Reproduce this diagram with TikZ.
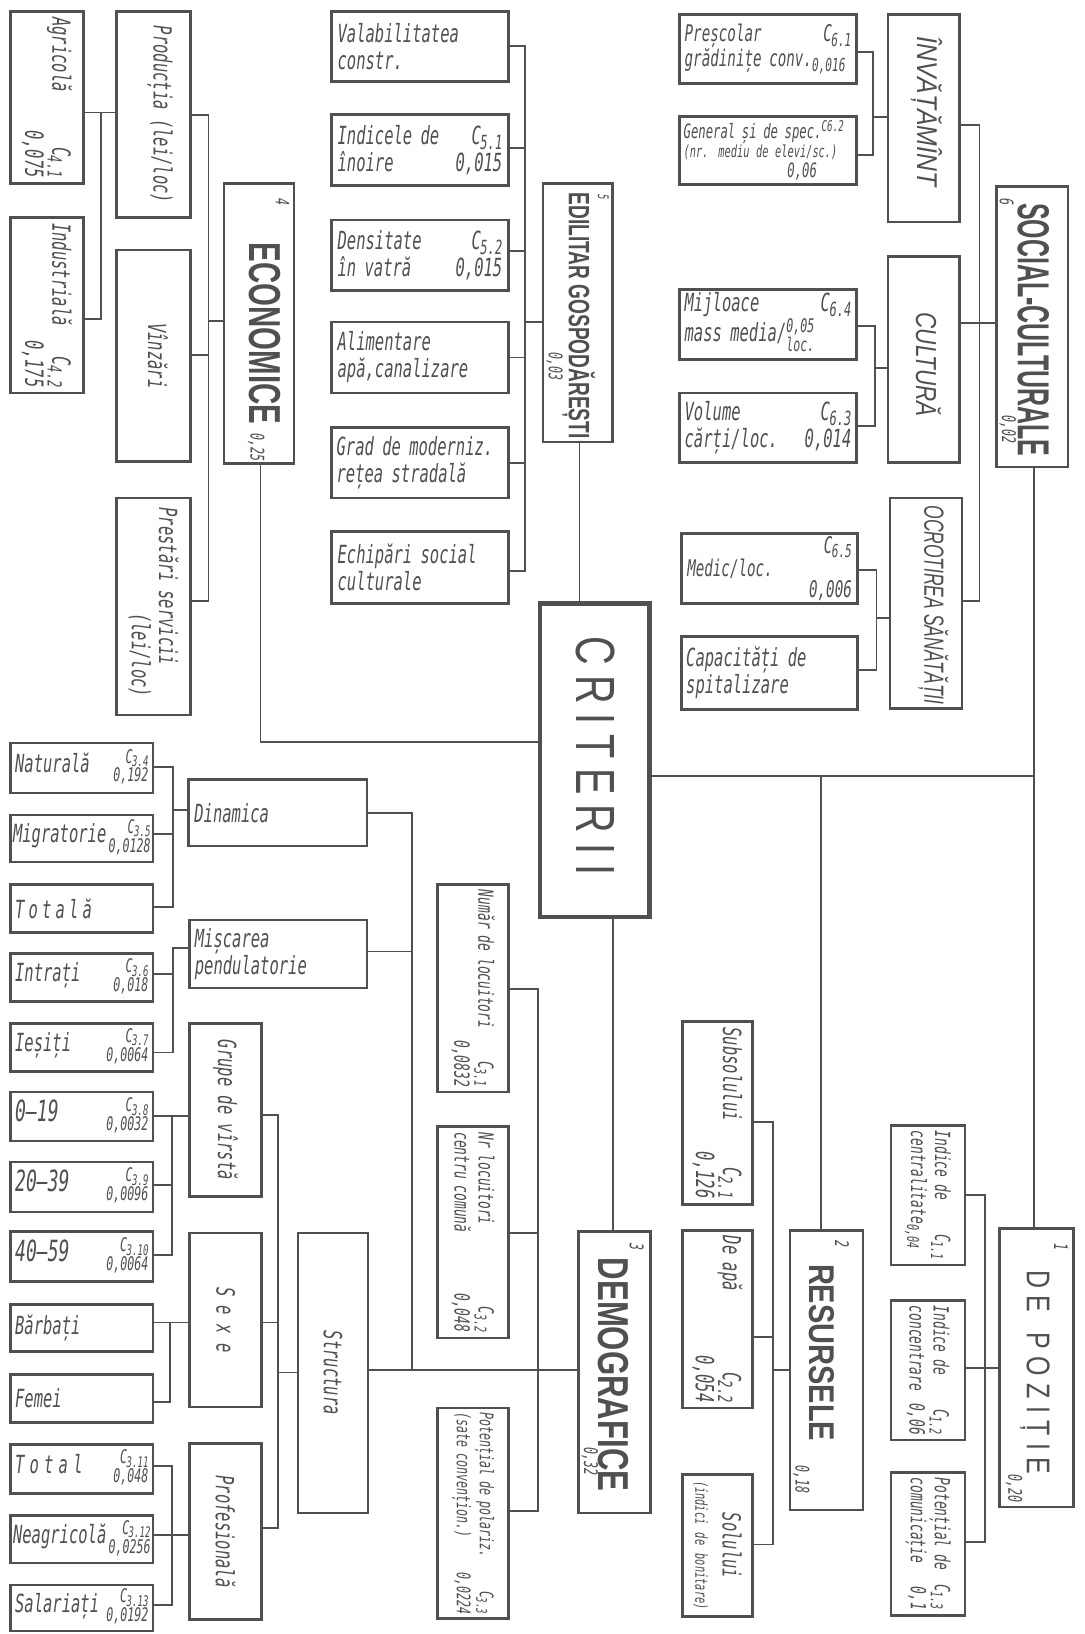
\documentclass[tikz,border=0pt]{standalone}
\usepackage{fontspec}
\usepackage{graphicx}
\setmainfont{DejaVu Sans Mono}[FakeStretch=0.62]
\newfontfamily\hdfont{Liberation Sans}
\usetikzlibrary{calc}
\definecolor{ink}{RGB}{80,80,80}
\newcommand\Bx[6][bx]{\pgfmathsetmacro\bw{#5-#3}\pgfmathsetmacro\bh{#6-#4}%
 \node[#1,minimum width=\bw pt,minimum height=\bh pt] (#2) at ({(#3+#5)/2},{(#4+#6)/2}) {};}
\newcommand\Tx[4][]{\node[tx,text width=#3pt,#1] (#2-t) at (#2.center) {#4};}
\newcommand\Sb[1]{\raisebox{-0.35ex}{\scalebox{0.78}{#1}}}
\newcommand\Cc[1]{C\kern-0.5pt\Sb{#1}}
\newcommand\Stk[2]{{\fontsize{18}{16}\selectfont\begin{tabular}[c]{@{}r@{}}#1\\#2\end{tabular}}}
\begin{document}
\begin{tikzpicture}[x=1pt,y=-1pt,
 bx/.style={draw=ink,line width=2.5pt,inner sep=0pt,outer sep=0pt},
 bigbx/.style={draw=ink,line width=4.4pt,inner sep=0pt,outer sep=0pt},
 ln/.style={draw=ink,line width=1.7pt},
 tx/.style={text=ink,inner sep=0pt,align=left,font=\itshape\fontsize{24}{26}\selectfont},
 hd/.style={text=ink,inner sep=0pt,rotate=-90},
 nm/.style={text=ink,inner sep=0pt,rotate=-90,font=\itshape\fontsize{18}{18}\selectfont}]
\fill[white] (0,0) rectangle (1041,1568);
\useasboundingbox (0,0) rectangle (1041,1568);
% ---------- boxes
\Bx{agr}{10}{11}{80}{176}
\Bx{ind}{10}{209}{80}{377}
\Bx{prod}{112}{11}{183}{209}
\Bx{vinz}{112}{240}{183}{443}
\Bx{prest}{112}{478}{183}{686}
\Bx{econ}{215}{176}{282}{445}
\Bx{val}{318}{11}{488}{78}
\Bx{inoi}{318}{110}{488}{178}
\Bx{dens}{318}{211}{488}{279}
\Bx{alim}{318}{309}{488}{377}
\Bx{grad}{318}{410}{488}{478}
\Bx{echip}{318}{510}{488}{579}
\Bx{edil}{521}{176}{588}{424}
\Bx{presc}{652}{14}{822}{80}
\Bx{gen}{652}{112}{822}{177}
\Bx{mij}{652}{278}{822}{345}
\Bx{vol}{652}{377}{822}{444}
\Bx{med}{654}{512}{823}{579}
\Bx{cap}{654}{611}{823}{681}
\Bx{inv}{852}{14}{921}{213}
\Bx{cult}{852}{246}{921}{444}
\Bx{ocr}{854}{478}{923}{680}
\Bx{soc}{956}{179}{1025}{448}
\Bx[bigbx]{crit}{518}{579}{623}{880}
\Bx{nat}{10}{713}{147}{761}
\Bx{mig}{10}{782}{147}{827}
\Bx{tot}{10}{849}{147}{895}
\Bx{din}{181}{748}{352}{812}
\Bx{misc}{182}{883}{352}{948}
\Bx{intr}{10}{915}{147}{961}
\Bx{ies}{10}{982}{147}{1028}
\Bx{a019}{10}{1048}{147}{1095}
\Bx{a2039}{10}{1115}{147}{1163}
\Bx{a4059}{10}{1182}{147}{1230}
\Bx{barb}{10}{1252}{147}{1297}
\Bx{fem}{10}{1319}{147}{1365}
\Bx{ttl}{10}{1386}{147}{1433}
\Bx{neag}{10}{1454}{147}{1500}
\Bx{sal}{10}{1521}{147}{1565}
\Bx{grupe}{182}{982}{251}{1148}
\Bx{sexe}{182}{1183}{251}{1350}
\Bx{prof}{182}{1385}{251}{1554}
\Bx{str}{286}{1183}{353}{1452}
\Bx{num}{420}{849}{488}{1048}
\Bx{nrl}{420}{1081}{488}{1284}
\Bx{pot}{420}{1351}{488}{1553}
\Bx{dem}{555}{1182}{624}{1452}
\Bx{sub}{655}{980}{722}{1156}
\Bx{apa}{655}{1181}{722}{1351}
\Bx{sol}{655}{1415}{722}{1551}
\Bx{res}{758}{1181}{828}{1449}
\Bx{cen}{855}{1080}{926}{1214}
\Bx{conc}{855}{1248}{926}{1382}
\Bx{com}{855}{1413}{926}{1550}
\Bx{poz}{959}{1179}{1030}{1446}
% ---------- texts: economic
\Tx[rotate=-90]{agr}{154}{Agricolă\hfill\Cc{4.1}\\\mbox{}\hfill 0,075}
\Tx[rotate=-90]{ind}{158}{Industrială\hfill\Cc{4.2}\\\mbox{}\hfill 0,175}
\node[tx,rotate=-90] (prod-t) at ($(prod.center)+(6,0)$) {Producția (lei/loc)};
\node[tx,rotate=-90] (vinz-t) at ($(vinz.center)+(4,0)$) {Vînzări};
\Tx[rotate=-90]{prest}{190}{Prestări servicii\\\mbox{}\hfill(lei/loc)\hspace*{8pt}}
\node[hd] (econ-h) at (254.5,320) {\resizebox{174pt}{30pt}{\hdfont\bfseries ECONOMICE}};
\node[nm] (econ-a) at (271,194) {4};
\node[nm] (econ-b) at (246,429) {0,25};
% edilitar
\Tx{val}{158}{Valabilitatea\\constr.}
\Tx{inoi}{158}{Indicele de\hfill\Cc{5.1}\\înoire\hfill 0,015}
\Tx{dens}{158}{Densitate\hfill\Cc{5.2}\\în vatră\hfill 0,015}
\Tx{alim}{158}{Alimentare\\apă,canalizare}
\Tx{grad}{160}{Grad de moderniz.\\rețea stradală}
\Tx{echip}{158}{Echipări social\\culturale}
\node[hd] (edil-h) at (555,303) {\resizebox{236pt}{25pt}{\hdfont\bfseries EDILITAR GOSPODĂREȘTI}};
\node[nm,font=\itshape\fontsize{14}{14}\selectfont] (edil-a) at (579,189) {5};
\node[nm] (edil-b) at (532,352) {0,03};
% social-culturale
\Tx[font=\itshape\fontsize{22}{24}\selectfont]{presc}{160}{Preșcolar\hfill\Cc{6.1}\\grădinițe conv.\Sb{0,016}}
\Tx[font=\itshape\fontsize{19}{19}\selectfont]{gen}{162}{General și de spec.\raisebox{0.6ex}{\scalebox{0.75}{C6.2}}\\{\fontsize{16}{19}\selectfont(nr. mediu de elevi/sc.)}\\\mbox{}\hfill 0,06\hspace*{34pt}}
\Tx{mij}{160}{Mijloace\hfill\Cc{6.4}\\mass media/\Stk{0,05}{loc.}}
\Tx{vol}{160}{Volume\hfill\Cc{6.3}\\cărți/loc.\hfill 0,014}
\Tx[font=\itshape\fontsize{22}{20}\selectfont]{med}{158}{\mbox{}\hfill\Cc{6.5}\\Medic/loc.\\\mbox{}\hfill 0,006}
\Tx{cap}{160}{Capacități de\\spitalizare}
\node[hd] (inv-h) at (889,107) {\resizebox{144pt}{24pt}{\hdfont\itshape ÎNVĂȚĂMÎNT}};
\node[hd] (cult-h) at (891,350) {\resizebox{100pt}{24pt}{\hdfont\itshape CULTURĂ}};
\node[hd] (ocr-h) at (895.5,580.5) {\resizebox{191pt}{23pt}{\hdfont\itshape OCROTIREA SĂNĂTĂȚII}};
\node[hd] (soc-h) at (991.5,316.5) {\resizebox{243pt}{30pt}{\hdfont\bfseries SOCIAL-CULTURALE}};
\node[nm] (soc-a) at (966,194) {6};
\node[nm] (soc-b) at (967,412) {0,02};
% criterii
\node[hd] (crit-h) at (571.5,725.5) {\resizebox{229pt}{37pt}{\hdfont C\kern.25em R\kern.25em I\kern.25em T\kern.25em E\kern.25em R\kern.25em I\kern.25em I}};
% demografice, left
\Tx{nat}{128}{Naturală\hfill\Stk{\Cc{3.4}}{0,192}}
\Tx{mig}{132}{Migratorie\hfill\Stk{\Cc{3.5}}{0,0128}}
\Tx{tot}{128}{T\kern4pt o\kern4pt t\kern4pt a\kern4pt l\kern4pt ă}
\Tx{din}{160}{Dinamica}
\Tx{misc}{160}{Mișcarea\\pendulatorie}
\Tx{intr}{128}{Intrați\hfill\Stk{\Cc{3.6}}{0,018}}
\Tx{ies}{128}{Ieșiți\hfill\Stk{\Cc{3.7}}{0,0064}}
\Tx{a019}{128}{{\fontsize{28}{28}\selectfont 0–19}\hfill\Stk{\Cc{3.8}}{0,0032}}
\Tx{a2039}{128}{{\fontsize{28}{28}\selectfont 20–39}\hfill\Stk{\Cc{3.9}}{0,0096}}
\Tx{a4059}{128}{{\fontsize{28}{28}\selectfont 40–59}\hfill\Stk{\Cc{3.10}}{0,0064}}
\Tx{barb}{128}{Bărbați}
\Tx{fem}{128}{Femei}
\Tx{ttl}{128}{T\kern5pt o\kern5pt t\kern5pt a\kern5pt l\hfill\Stk{\Cc{3.11}}{0,048}}
\Tx{neag}{132}{Neagricolă\hfill\Stk{\Cc{3.12}}{0,0256}}
\Tx{sal}{128}{Salariați\hfill\Stk{\Cc{3.13}}{0,0192}}
\node[tx,rotate=-90] (grupe-t) at (grupe.center) {Grupe de vîrstă};
\node[tx,rotate=-90] (sexe-t) at (sexe.center) {S\kern9pt e\kern9pt x\kern9pt e};
\node[tx,rotate=-90] (prof-t) at (prof.center) {Profesională};
\node[tx,rotate=-90] (str-t) at (str.center) {Structura};
\Tx[rotate=-90,font=\itshape\fontsize{20}{23}\selectfont]{num}{189}{Număr de locuitori\hfill\Cc{3.1}\\\mbox{}\hfill 0,0832}
\Tx[rotate=-90,font=\itshape\fontsize{20}{23}\selectfont]{nrl}{192}{Nr locuitori\hfill\Cc{3.2}\\centru comună\hfill 0,048}
\Tx[rotate=-90,font=\itshape\fontsize{18}{22}\selectfont]{pot}{194}{Potențial de polariz.\hfill\Cc{3.3}\\(sate convențion.)\hfill 0,0224}
\node[hd] (dem-h) at (589,1319) {\resizebox{224pt}{29pt}{\hdfont\bfseries DEMOGRAFICE}};
\node[nm] (dem-a) at (611,1197) {3};
\node[nm] (dem-b) at (566,1402) {0,32};
% resursele
\Tx[rotate=-90]{sub}{164}{Subsolului\hfill\Cc{2.1}\\\mbox{}\hfill 0,126}
\Tx[rotate=-90]{apa}{160}{De apă\hfill\Cc{2.2}\\\mbox{}\hfill 0,054}
\Tx[rotate=-90,align=center]{sol}{128}{Solului\\{\fontsize{16}{18}\selectfont (indici de bonitare)}}
\node[hd] (res-h) at (788.5,1298) {\resizebox{170pt}{24pt}{\hdfont\bfseries RESURSELE}};
\node[nm] (res-a) at (808,1194) {2};
\node[nm] (res-b) at (769,1420) {0,18};
% de pozitie
\Tx[rotate=-90,font=\itshape\fontsize{20}{23}\selectfont]{cen}{124}{Indice de\hfill\Cc{1.1}\\centralitate\Sb{0,04}}
\Tx[rotate=-90,font=\itshape\fontsize{20}{23}\selectfont]{conc}{124}{Indice de\hfill\Cc{1.2}\\concentrare\hfill 0,06}
\Tx[rotate=-90,font=\itshape\fontsize{20}{23}\selectfont]{com}{127}{Potențial de\hfill\Cc{1.3}\\comunicație\hfill 0,1}
\node[hd] (poz-h) at (993,1317) {\resizebox{196pt}{22pt}{\hdfont D\kern.3em E\kern.8em P\kern.3em O\kern.3em Z\kern.3em I\kern.3em Ț\kern.3em I\kern.3em E}};
\node[nm] (poz-a) at (1018,1197) {1};
\node[nm] (poz-b) at (973,1428) {0,20};
% ---------- connectors: economic
\draw[ln] (agr.east|-0,108) -- (prod.west|-0,108);
\draw[ln] (ind.east|-0,306) -| (97,108);
\draw[ln] (prod.east|-0,110) -| (200,577) -- (prest.east|-0,577);
\draw[ln] (vinz.east|-0,341) -- (200,341);
\draw[ln] (200,308) -- (econ.west|-0,308);
\draw[ln] (econ.south-|250,0) |- (crit.west|-0,712);
% edilitar
\draw[ln] (val.east|-0,44) -| (504,548) -- (echip.east|-0,548);
\foreach \n/\yy in {inoi/142,dens/241,alim/343,grad/444} \draw[ln] (\n.east|-0,\yy) -- (504,\yy);
\draw[ln] (504,309) -- (edil.west|-0,309);
\draw[ln] (edil.south-|556,0) -- (crit.north-|556,0);
% social
\draw[ln] (presc.east|-0,50) -| (838,149) -- (gen.east|-0,149);
\draw[ln] (838,112) -- (inv.west|-0,112);
\draw[ln] (mij.east|-0,313) -| (840,409) -- (vol.east|-0,409);
\draw[ln] (840,353) -- (cult.west|-0,353);
\draw[ln] (med.east|-0,547) -| (841,643) -- (cap.east|-0,643);
\draw[ln] (841,593) -- (ocr.west|-0,593);
\draw[ln] (inv.east|-0,120) -| (940,577) -- (ocr.east|-0,577);
\draw[ln] (cult.east|-0,310) -- (soc.west|-0,310);
\draw[ln] (soc.south-|992,0) -- (poz.north-|992,0);
\draw[ln] (crit.east|-0,745) -- (992,745);
\draw[ln] (788,745) -- (res.north-|788,0);
\draw[ln] (crit.south-|588,0) -- (dem.north-|588,0);
% resurse
\draw[ln] (sub.east|-0,1077) -| (742,1482) -- (sol.east|-0,1482);
\draw[ln] (apa.east|-0,1283) -- (742,1283);
\draw[ln] (742,1315) -- (res.west|-0,1315);
% pozitie
\draw[ln] (cen.east|-0,1147) -| (945,1480) -- (com.east|-0,1480);
\draw[ln] (conc.east|-0,1313) -- (poz.west|-0,1313);
% demografice
\draw[ln] (num.east|-0,949) -| (516,1450) -- (pot.east|-0,1450);
\draw[ln] (nrl.east|-0,1183) -- (516,1183);
\draw[ln] (str.east|-0,1315) -- (dem.west|-0,1315);
\draw[ln] (din.east|-0,780) -| (395,1315);
\draw[ln] (misc.east|-0,913) -- (395,913);
% left
\draw[ln] (nat.east|-0,736) -| (166,870) -- (tot.east|-0,870);
\draw[ln] (mig.east|-0,800) -- (166,800);
\draw[ln] (166,777) -- (din.west|-0,777);
\draw[ln] (misc.west|-0,910) -| (166,1010) -- (ies.east|-0,1010);
\draw[ln] (intr.east|-0,935) -- (166,935);
\draw[ln] (a019.east|-0,1071) -- (grupe.west|-0,1071);
\draw[ln] (a4059.east|-0,1204) -| (165,1071);
\draw[ln] (a2039.east|-0,1137) -- (165,1137);
\draw[ln] (grupe.east|-0,1070) -| (267,1466) -- (prof.east|-0,1466);
\draw[ln] (sexe.east|-0,1269) -- (267,1269);
\draw[ln] (267,1317) -- (str.west|-0,1317);
\draw[ln] (barb.east|-0,1269) -- (sexe.west|-0,1269);
\draw[ln] (fem.east|-0,1345) -| (163,1269);
\draw[ln] (ttl.east|-0,1407) -| (165,1540) -- (sal.east|-0,1540);
\draw[ln] (neag.east|-0,1473) -- (prof.west|-0,1473);
\end{tikzpicture}
\end{document}
